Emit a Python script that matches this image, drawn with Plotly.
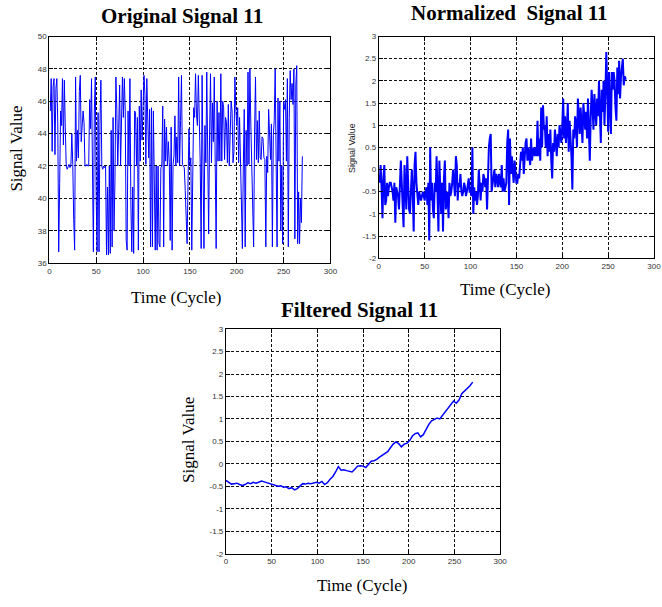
import plotly.graph_objects as go

W, H = 662, 607

# ---------------- data ----------------
original_values = [
    45.4, 47.4, 42.9, 46.9, 47.4, 42.7, 46.8, 47.4, 44.6, 36.7,
    40.9, 45.4, 44.5, 47.4, 43.3, 47.3, 44.4, 42.0, 41.8, 42.0,
    42.1, 41.9, 42.0, 44.0, 42.1, 38.7, 36.8, 47.5, 42.3, 44.2,
    42.5, 46.6, 47.6, 43.5, 44.7, 45.4, 44.7, 42.0, 42.0, 42.1,
    42.0, 42.0, 46.1, 44.3, 47.4, 38.9, 36.7, 45.4, 47.5, 40.0,
    36.7, 45.3, 36.7, 44.5, 47.3, 42.0, 41.8, 42.0, 41.9, 42.0,
    36.5, 40.7, 36.5, 42.0, 36.6, 44.2, 37.0, 45.0, 38.0, 41.0,
    47.5, 45.5, 42.0, 44.3, 47.0, 42.0, 45.2, 47.5, 45.0, 47.4,
    45.4, 37.4, 36.8, 45.4, 42.0, 47.4, 39.6, 36.7, 40.7, 36.6,
    45.4, 45.3, 42.0, 45.0, 36.8, 45.7, 42.3, 46.7, 43.6, 46.8,
    47.6, 46.4, 42.1, 47.4, 45.6, 42.5, 45.5, 37.0, 45.6, 37.0,
    45.4, 41.9, 36.8, 42.0, 36.8, 42.0, 37.2, 37.0, 41.9, 42.0,
    45.7, 37.0, 44.9, 42.3, 44.4, 42.0, 43.5, 42.2, 37.4, 44.4,
    36.8, 42.1, 42.6, 45.1, 42.0, 43.8, 42.2, 47.5, 42.0, 44.8,
    47.6, 42.1, 42.0, 41.9, 40.5, 37.9, 37.2, 41.0, 44.3, 42.0,
    42.5, 36.8, 42.7, 45.6, 45.0, 47.7, 45.2, 44.5, 47.6, 45.6,
    42.2, 36.9, 47.6, 42.0, 36.9, 44.5, 42.2, 47.8, 42.0, 37.8,
    44.0, 47.7, 42.2, 45.9, 43.5, 47.5, 42.2, 36.9, 46.0, 42.3,
    45.3, 42.3, 47.7, 42.3, 46.0, 45.6, 42.4, 45.0, 44.7, 42.2,
    45.8, 42.0, 44.0, 46.0, 45.4, 42.2, 42.9, 47.5, 45.5, 44.5,
    45.6, 42.2, 45.0, 42.4, 38.8, 36.9, 42.0, 45.5, 37.0, 44.2,
    42.0, 47.8, 42.1, 48.0, 44.6, 42.2, 38.5, 37.0, 44.0, 47.5,
    42.4, 44.8, 42.2, 45.4, 42.5, 42.4, 43.8, 43.7, 42.5, 42.4,
    37.0, 42.6, 41.6, 45.5, 44.0, 42.4, 44.6, 37.0, 43.9, 44.8,
    48.0, 42.2, 37.0, 46.2, 42.3, 46.0, 38.0, 42.0, 37.2, 46.0,
    45.5, 46.1, 42.3, 47.4, 37.0, 45.0, 47.9, 46.1, 47.1, 45.8,
    48.0, 37.5, 47.0, 48.2, 37.2, 40.4, 37.2, 40.0, 38.5, 42.6,
]

normalized_values = [
    -0.3, 0.1, -0.4, -1.1, -0.2, 0.1, -0.8, -0.7, -0.3, -0.6,
    -0.4, -0.3, -0.3, -0.4, -0.5, -0.7, -0.3, -1.2, -0.4, -0.5,
    -0.6, -0.9, -0.1, 0.2, -0.3, -0.8, -1.3, 0.1, -0.4, -0.9,
    0.3, -0.4, -0.9, -1.0, -0.2, 0.0, -0.5, -1.4, 0.1, 0.4,
    -0.3, -0.5, -0.8, -0.5, -0.6, -0.7, -0.6, -0.5, -0.6, -0.7,
    -0.5, -0.4, -0.8, -0.3, -1.6, 0.5, -0.7, -0.3, -0.9, -1.1,
    -0.3, -0.5, 0.3, -0.8, -1.4, 0.2, -0.5, -1.0, -0.3, -1.4,
    -0.2, 0.2, -0.9, -0.7, -0.5, -1.1, -0.3, -0.6, -0.5, -0.3,
    0.0, -0.3, -0.6, 0.3, 0.1, -0.7, -0.3, -0.4, -0.1, -0.5,
    -0.6, -0.5, -0.3, -0.4, -0.6, -0.5, -0.3, -0.2, -0.5, -0.5,
    -0.6, 0.5, -1.0, -0.4, -0.7, -0.5, -0.8, -0.6, 0.0, -0.3,
    -0.7, -0.3, -0.5, -0.1, -0.2, -0.4, -0.2, -0.9, 0.1, 0.5,
    0.7, 0.8, -0.5, -0.3, -0.2, 0.0, -0.4, -0.1, -0.2, -0.4,
    -0.1, -0.3, -0.4, 0.1, -0.5, -0.2, -0.5, -0.4, -0.3, 0.6,
    0.9, -0.8, 0.7, -0.1, 0.3, 0.0, -0.3, 0.2, -0.2, -0.3,
    -0.3, -0.1, -0.2, 0.1, 0.4, 0.2, 0.5, -0.1, 0.3, 0.6,
    0.7, 0.2, 0.5, 0.3, 0.1, 0.7, 0.2, 0.4, 0.5, 0.3,
    0.5, 0.3, 1.1, 0.3, 0.7, 0.2, 1.4, 0.5, 1.45, 0.9,
    1.0, 0.5, 1.2, 0.3, 0.8, 0.4, 0.9, 0.2, -0.2, 0.6,
    0.4, 0.9, 0.6, 0.3, 0.8, 0.5, 1.0, 0.7, 0.6, 1.0,
    1.6, 0.7, 1.2, 0.6, 0.9, 1.5, 0.4, 1.1, 0.8, 0.3,
    -0.45, 0.9, 0.7, 1.2, 1.0, 0.5, 1.6, 1.2, 0.8, 1.4,
    1.0, 0.6, 1.5, 1.1, 0.9, 1.3, 0.7, 1.6, 1.0, 0.2,
    1.2, 1.8, 1.4, 0.9, 1.7, 1.3, 1.0, 1.6, 1.2, 2.0,
    1.5, 0.6, 1.8, 1.3, 2.0, 1.0, 1.7, 2.65, 1.9, 0.85,
    2.2, 1.6, 0.8, 2.2, 1.8, 2.2, 2.0, 1.4, 1.1, 2.3,
    1.7, 2.45, 1.6, 2.1, 2.4, 2.5, 1.9, 2.1, 2.05, 2.05,
]
cycles = list(range(1, len(original_values) + 1))

filtered_cycles = list(range(0, 271, 3))
filtered_values = [
    -0.37, -0.42, -0.45, -0.44, -0.43, -0.46, -0.48, -0.46, -0.42, -0.44,
    -0.41, -0.43, -0.40, -0.38, -0.40, -0.42, -0.44, -0.46, -0.48, -0.50,
    -0.49, -0.52, -0.51, -0.55, -0.53, -0.58, -0.55, -0.50, -0.44, -0.45,
    -0.43, -0.44, -0.42, -0.41, -0.43, -0.39, -0.46, -0.42, -0.34, -0.28,
    -0.18, -0.06, -0.14, -0.13, -0.15, -0.16, -0.18, -0.12, -0.05, -0.04,
    -0.05, -0.08, -0.02, 0.06, 0.07, 0.10, 0.15, 0.19, 0.24, 0.27,
    0.36, 0.44, 0.49, 0.45, 0.38, 0.44, 0.46, 0.52, 0.62, 0.67,
    0.69, 0.60, 0.65, 0.78, 0.88, 0.96, 1.00, 1.02, 1.00, 1.08,
    1.15, 1.22, 1.30, 1.40, 1.35, 1.42, 1.56, 1.62, 1.66, 1.74,
    1.82,
]

x_ticks = [0, 50, 100, 150, 200, 250, 300]
orig_y_ticks = [36, 38, 40, 42, 44, 46, 48, 50]
norm_y_ticks = [-2, -1.5, -1, -0.5, 0, 0.5, 1, 1.5, 2, 2.5, 3]
norm_y_labels = ["-2", "-1.5", "-1", "-0.5", "0", "0.5", "1", "1.5", "2", "2.5", "3"]

titles = ["Original Signal 11", "Normalized  Signal 11", "Filtered Signal 11"]
x_title = "Time (Cycle)"
y_title = "Signal Value"

# ---------------- figure ----------------
def px_x(p):
    return p / W

def px_y(p):
    return 1 - p / H

fig = go.Figure()
fig.add_trace(go.Scatter(x=cycles, y=original_values, mode="lines",
                         line=dict(color="#0000ff", width=1), xaxis="x", yaxis="y"))
fig.add_trace(go.Scatter(x=cycles, y=normalized_values, mode="lines",
                         line=dict(color="#0000ff", width=2), xaxis="x2", yaxis="y2"))
fig.add_trace(go.Scatter(x=filtered_cycles, y=filtered_values, mode="lines",
                         line=dict(color="#0000ff", width=1.5), xaxis="x3", yaxis="y3"))

tickfont = dict(family="Liberation Sans, Arial, sans-serif", size=8, color="#333333")
common = dict(showline=True, linecolor="black", linewidth=1, mirror="ticks",
              ticks="inside", ticklen=4, tickcolor="black",
              showgrid=True, gridcolor="#111111", griddash="3px,2px", gridwidth=1,
              zeroline=False, tickfont=tickfont, fixedrange=True)

xt = dict(tickvals=x_ticks, ticktext=[str(v) for v in x_ticks], range=[0, 300])

fig.update_layout(
    width=W, height=H, margin=dict(l=0, r=0, t=0, b=0),
    paper_bgcolor="white", plot_bgcolor="white", showlegend=False,
    xaxis=dict(domain=[px_x(48), px_x(333)], anchor="y", **xt, **common),
    yaxis=dict(domain=[px_y(263), px_y(33)], anchor="x", range=[36, 50],
               tickvals=orig_y_ticks, ticktext=[str(v) for v in orig_y_ticks], **common),
    xaxis2=dict(domain=[px_x(382), px_x(661)], anchor="y2", **xt, **common),
    yaxis2=dict(domain=[px_y(258), px_y(33)], anchor="x2", range=[-2, 3],
                tickvals=norm_y_ticks, ticktext=norm_y_labels, **common),
    xaxis3=dict(domain=[px_x(227), px_x(505)], anchor="y3", **xt, **common),
    yaxis3=dict(domain=[px_y(558), px_y(330)], anchor="x3", range=[-2, 3],
                tickvals=norm_y_ticks, ticktext=norm_y_labels, **common),
)

serif = "Liberation Serif, Times New Roman, serif"
title_font = dict(family=serif, size=21, color="black")
axis_font = dict(family=serif, size=17, color="black")

def ann(text, x, y, font, angle=0):
    fig.add_annotation(text=text, x=px_x(x), y=px_y(y), xref="paper", yref="paper",
                       xanchor="center", yanchor="middle", showarrow=False,
                       font=font, textangle=angle)

ann("<b>" + titles[0] + "</b>", 182, 12, title_font)
ann("<b>" + titles[1] + "</b>", 515, 9, title_font)
ann("<b>" + titles[2] + "</b>", 362, 311, title_font)

ann(x_title, 177, 298, axis_font)
ann(x_title, 510, 290, axis_font)
ann(x_title, 365, 590, axis_font)

ann(y_title, 15, 147, axis_font, -90)
ann(y_title, 355, 146, dict(family="Liberation Sans, Arial, sans-serif", size=9, color="#222"), -90)
ann(y_title, 189, 442, axis_font, -90)

fig.write_html(
    "out.html",
    config=dict(displayModeBar=False, staticPlot=True),
    post_script="document.body.style.margin='0';document.body.style.padding='0';"
                "document.documentElement.style.overflow='hidden';",
)
